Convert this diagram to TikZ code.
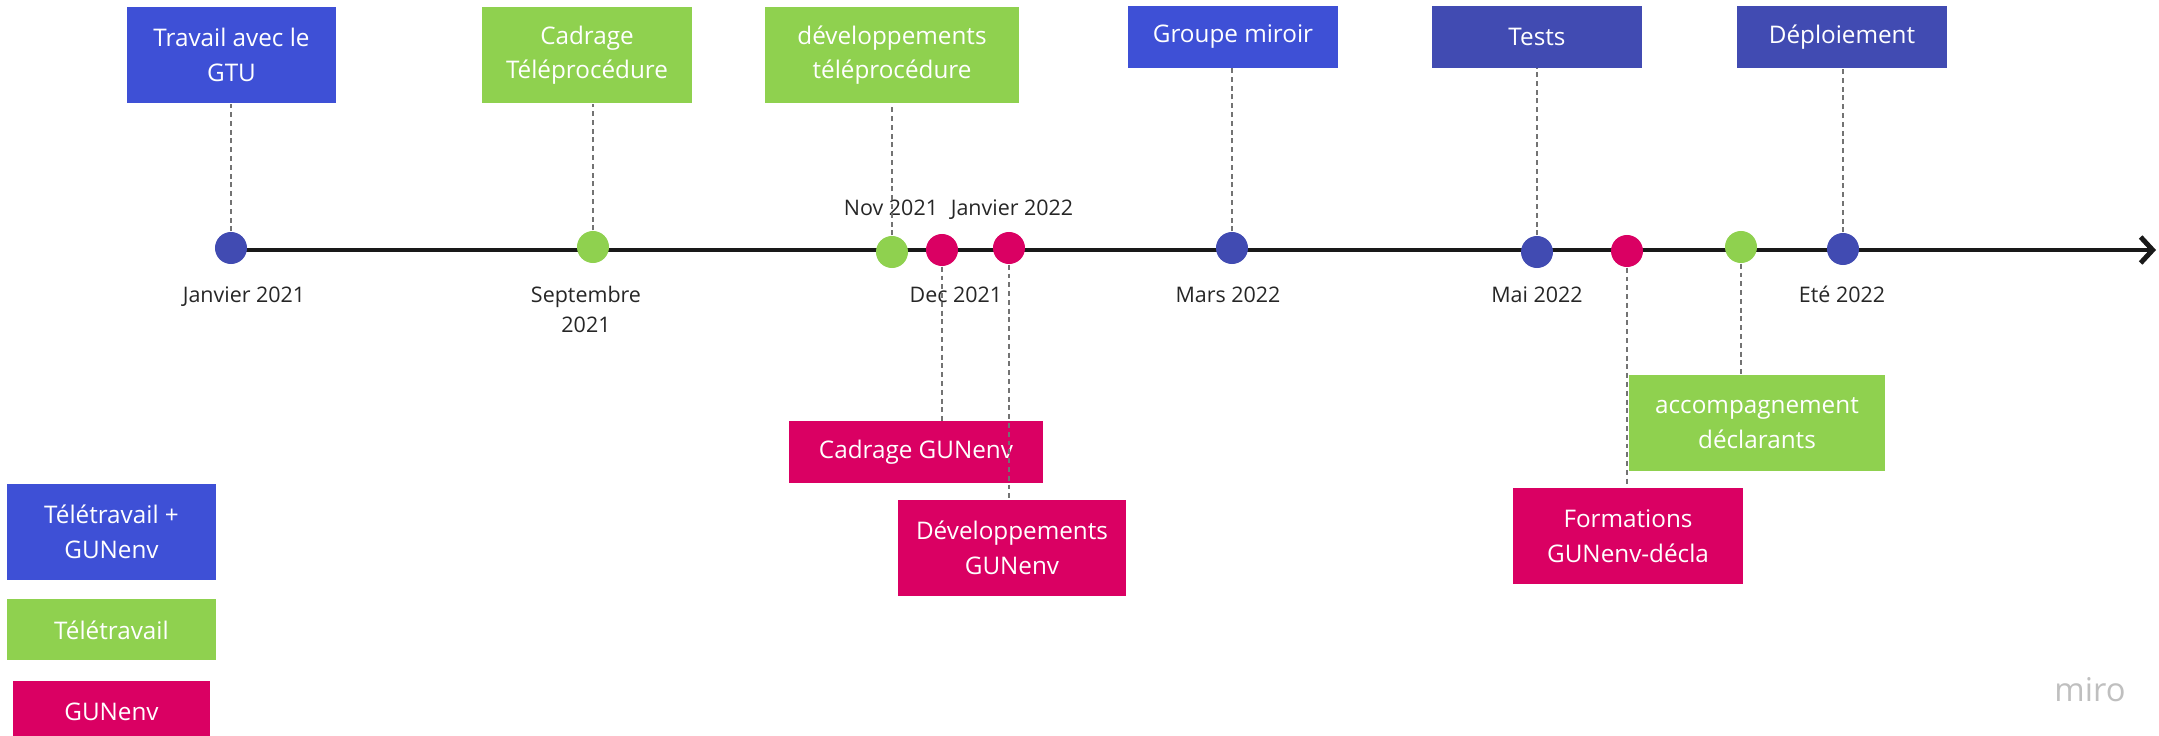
\documentclass[tikz,border=0pt]{standalone}
\usepackage{fontspec}
\setmainfont{Open Sans}
\usetikzlibrary{arrows.meta,positioning}
\definecolor{mblue}{HTML}{3E50D6}
\definecolor{mnavy}{HTML}{414BB2}
\definecolor{mgreen}{HTML}{8FD14F}
\definecolor{mpink}{HTML}{DA0063}

\begin{document}
\begin{tikzpicture}[x=0.01cm, y=-0.01cm,
  font=\fontsize{6.9}{9.8}\selectfont,
  b/.style={inner sep=0pt, minimum width=2.09cm, minimum height=0.61cm, text=white, align=center},
  tall/.style={minimum height=0.96cm},
  blu/.style={b, fill=mblue}, nav/.style={b, fill=mnavy},
  grn/.style={b, fill=mgreen}, pnk/.style={b, fill=mpink},
  dot/.style={circle, inner sep=0pt, minimum size=0.32cm},
  date/.style={font=\fontsize{6.1}{8.5}\selectfont, align=center, anchor=base, text=black!85},
  lnk/.style={dash pattern=on 1.4pt off 1.1pt, line width=0.3pt, black!55},
  axis/.style={line width=1.4pt, black!90, -{Straight Barb[length=0.12cm, width=0.26cm, line width=1.4pt]}}]
  \useasboundingbox (0,0) rectangle (2159,736);
  \clip (0,0) rectangle (2159,736);
  % timeline
  \coordinate (tend) at (2156,250);
  \draw[axis] (231,250) coordinate (tstart) -- (tend);
  \node[dot, fill=mnavy]  (d1)  at (231,248)  {};
  \node[dot, fill=mgreen] (d2)  at (593,247)  {};
  \node[dot, fill=mgreen] (d3)  at (892,252)  {};
  \node[dot, fill=mpink]  (d4)  at (942,250)  {};
  \node[dot, fill=mpink]  (d5)  at (1009,248) {};
  \node[dot, fill=mnavy]  (d6)  at (1232,248) {};
  \node[dot, fill=mnavy]  (d7)  at (1537,252) {};
  \node[dot, fill=mpink]  (d8)  at (1627,251) {};
  \node[dot, fill=mgreen] (d9)  at (1741,247) {};
  \node[dot, fill=mnavy]  (d10) at (1843,249) {};
  % dates
  \node[date] (l1) at (244,302)  {Janvier 2021};
  \node[date] (l2) at (586,332)  {Septembre\\2021};
  \node[date] (l3) at (891,215)  {Nov 2021};
  \node[date] (l4) at (1012,215) {Janvier 2022};
  \node[date] (l5) at (956,302)  {Dec 2021};
  \node[date] (l6) at (1228,302) {Mars 2022};
  \node[date] (l7) at (1537,302) {Mai 2022};
  \node[date] (l8) at (1842,302) {Eté 2022};
  % top boxes
  \node[blu, tall] (t1) at (231.5,55) {Travail avec le\\GTU};
  \node[grn, tall] (t2) at (587,55)   {Cadrage\\Téléprocédure};
  \node[grn, tall, minimum width=2.54cm] (t3) at (892,55) {développements\\téléprocédure};
  \node[blu] (t4) at (1233,37) {Groupe miroir};
  \node[nav] (t5) at (1537,37) {Tests};
  \node[nav] (t6) at (1842,37) {Déploiement};
  % bottom boxes
  \node[pnk, minimum width=2.53cm] (b1) at (916,452) {Cadrage GUNenv};
  \node[pnk, tall, minimum width=2.28cm] (b2) at (1012,548) {Développements\\GUNenv};
  \node[grn, tall, minimum width=2.55cm] (b3) at (1757,423) {accompagnement\\déclarants};
  \node[pnk, tall, minimum width=2.29cm] (b4) at (1628,536) {Formations\\GUNenv-décla};
  % legend
  \node[blu, tall] (lg1) at (111.5,532) {Télétravail +\\GUNenv};
  \node[grn, below=0.18cm of lg1] (lg2) {Télétravail};
  \node[pnk, below=0.19cm of lg2, minimum width=1.97cm] (lg3) {GUNenv};
  \node[text=black!25, font=\fontsize{9.3}{11}\selectfont] (miro) at (2090,690) {miro};
  % links
  \draw[lnk] (d1) -- (d1 |- t1.south);
  \draw[lnk] (d2) -- (d2 |- t2.south);
  \draw[lnk] (d3) -- (d3 |- t3.south);
  \draw[lnk] (d6) -- (d6 |- t4.south);
  \draw[lnk] (d7) -- (d7 |- t5.south);
  \draw[lnk] (d10) -- (d10 |- t6.south);
  \draw[lnk] (d4) -- (d4 |- b1.north);
  \draw[lnk] (d5) -- (d5 |- b2.north);
  \draw[lnk] (d8) -- (d8 |- b4.north);
  \draw[lnk] (d9) -- (d9 |- b3.north);
\end{tikzpicture}
\end{document}
